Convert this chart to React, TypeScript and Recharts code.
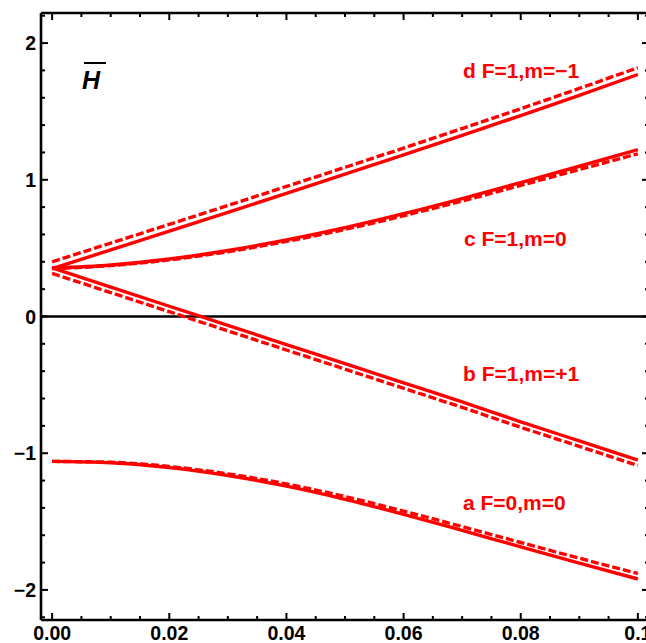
import { Customized, Line, LineChart, ReferenceLine, XAxis, YAxis } from "recharts";

const xs = [0, 0.01, 0.02, 0.03, 0.04, 0.05, 0.06, 0.07, 0.08, 0.09, 0.1];

const aSolid = [-1.06, -1.07, -1.105, -1.163, -1.241, -1.337, -1.447, -1.565, -1.685, -1.804, -1.92];
const aDashed = [-1.06, -1.066, -1.097, -1.151, -1.225, -1.317, -1.423, -1.537, -1.653, -1.768, -1.88];
const bSolid = [0.355, 0.215, 0.075, -0.065, -0.205, -0.345, -0.485, -0.625, -0.77, -0.91, -1.05];
const bDashed = [0.315, 0.175, 0.035, -0.105, -0.245, -0.385, -0.525, -0.665, -0.81, -0.95, -1.09];
const cSolid = [0.355, 0.377, 0.421, 0.483, 0.56, 0.65, 0.752, 0.863, 0.98, 1.099, 1.22];
const cDashed = [0.35, 0.372, 0.414, 0.474, 0.549, 0.637, 0.737, 0.845, 0.959, 1.075, 1.19];
const dSolid = [0.35, 0.487, 0.624, 0.762, 0.901, 1.041, 1.182, 1.325, 1.47, 1.618, 1.77];
const dDashed = [0.4, 0.537, 0.674, 0.812, 0.951, 1.091, 1.232, 1.375, 1.52, 1.668, 1.82];

const xTicks = [
  0, 0.005, 0.01, 0.015, 0.02, 0.025, 0.03, 0.035, 0.04, 0.045, 0.05,
  0.055, 0.06, 0.065, 0.07, 0.075, 0.08, 0.085, 0.09, 0.095, 0.1,
];
const xLabels = ["0.00", "0.02", "0.04", "0.06", "0.08", "0.1"];
const yTicks = [
  -2.2, -2, -1.8, -1.6, -1.4, -1.2, -1, -0.8, -0.6, -0.4, -0.2, 0,
  0.2, 0.4, 0.6, 0.8, 1, 1.2, 1.4, 1.6, 1.8, 2, 2.2,
];
const yLabels = ["\u22122", "\u22121", "0", "1", "2"];

const curveLabels = [
  { text: "d F=1,m=\u22121", x: 463, y: 78 },
  { text: "c F=1,m=0", x: 464, y: 245.5 },
  { text: "b F=1,m=+1", x: 463, y: 380.5 },
  { text: "a F=0,m=0", x: 463, y: 509.5 },
];

const data = xs.map((x, i) => ({
  x,
  aS: aSolid[i],
  aD: aDashed[i],
  bS: bSolid[i],
  bD: bDashed[i],
  cS: cSolid[i],
  cD: cDashed[i],
  dS: dSolid[i],
  dD: dDashed[i],
}));

const FONT = "'Liberation Sans', Arial, sans-serif";
const RED = "#ff0000";

const isMajorX = (v: number) => Math.abs(v / 0.02 - Math.round(v / 0.02)) < 1e-6;
const isMajorY = (v: number) => Math.abs(v - Math.round(v)) < 1e-6;

const makeXTick = (side: "top" | "bottom") => (props: any) => {
  const { x, y, payload } = props;
  const v = payload.value;
  const major = isMajorX(v);
  const len = major ? 7 : 4;
  const dir = side === "bottom" ? -1 : 1;
  return (
    <g>
      <line x1={x} x2={x} y1={y} y2={y + dir * len} stroke="#000" strokeWidth={2} />
      {side === "bottom" && major && (
        <text x={x} y={y + 20} textAnchor="middle" fontFamily={FONT} fontWeight="bold" fontSize={19.5} fill="#000">
          {xLabels[Math.round(v / 0.02)]}
        </text>
      )}
    </g>
  );
};

const makeYTick = (side: "left" | "right") => (props: any) => {
  const { x, y, payload } = props;
  const v = payload.value;
  const major = isMajorY(v);
  const len = major ? 7 : 4;
  const dir = side === "left" ? 1 : -1;
  return (
    <g>
      <line x1={x} x2={x + dir * len} y1={y} y2={y} stroke="#000" strokeWidth={2} />
      {side === "left" && major && (
        <text x={x - 5} y={y + 7} textAnchor="end" fontFamily={FONT} fontWeight="bold" fontSize={19.5} fill="#000">
          {yLabels[Math.round(v) + 2]}
        </text>
      )}
    </g>
  );
};

const Annotations = () => (
  <g>
    <text x={82} y={89} fontFamily={FONT} fontWeight="bold" fontStyle="italic" fontSize={25} fill="#000">
      H
    </text>
    <line x1={84} x2={106} y1={63} y2={63} stroke="#000" strokeWidth={2} />
    {curveLabels.map((l) => (
      <text key={l.text} x={l.x} y={l.y} fontFamily={FONT} fontWeight="bold" fontSize={21} fill={RED}>
        {l.text}
      </text>
    ))}
  </g>
);

const axisLine = { stroke: "#000", strokeWidth: 2.6 };

export default function App() {
  return (
    <div style={{ position: "fixed", left: 0, top: 0, width: 646, height: 643, overflow: "hidden", background: "#fff" }}>
      <LineChart width={669} height={643} data={data} margin={{ top: 0, right: 0, bottom: 0, left: 0 }}>
        <XAxis
          dataKey="x"
          type="number"
          domain={[-0.0019, 0.1019]}
          allowDataOverflow
          ticks={xTicks}
          interval={0}
          height={23}
          tickSize={0}
          tickMargin={0}
          tickLine={false}
          axisLine={axisLine}
          tick={makeXTick("bottom")}
        />
        <XAxis
          xAxisId="top"
          orientation="top"
          dataKey="x"
          type="number"
          domain={[-0.0019, 0.1019]}
          allowDataOverflow
          ticks={xTicks}
          interval={0}
          height={13}
          tickSize={0}
          tickMargin={0}
          tickLine={false}
          axisLine={axisLine}
          tick={makeXTick("top")}
        />
        <YAxis
          type="number"
          domain={[-2.22, 2.22]}
          allowDataOverflow
          ticks={yTicks}
          interval={0}
          width={41}
          tickSize={0}
          tickMargin={0}
          tickLine={false}
          axisLine={axisLine}
          tick={makeYTick("left")}
        />
        <YAxis
          yAxisId="right"
          orientation="right"
          type="number"
          domain={[-2.22, 2.22]}
          allowDataOverflow
          ticks={yTicks}
          interval={0}
          width={20}
          tickSize={0}
          tickMargin={0}
          tickLine={false}
          axisLine={axisLine}
          tick={makeYTick("right")}
        />
        <ReferenceLine y={0} stroke="#000" strokeWidth={2.6} />
        <Line dataKey="aS" type="monotone" stroke={RED} strokeWidth={3.4} dot={false} isAnimationActive={false} />
        <Line dataKey="aD" type="monotone" stroke={RED} strokeWidth={3.4} strokeDasharray="8 3" dot={false} isAnimationActive={false} />
        <Line dataKey="bS" type="monotone" stroke={RED} strokeWidth={3.4} dot={false} isAnimationActive={false} />
        <Line dataKey="bD" type="monotone" stroke={RED} strokeWidth={3.4} strokeDasharray="8 3" dot={false} isAnimationActive={false} />
        <Line dataKey="cS" type="monotone" stroke={RED} strokeWidth={3.4} dot={false} isAnimationActive={false} />
        <Line dataKey="cD" type="monotone" stroke={RED} strokeWidth={3.4} strokeDasharray="8 3" dot={false} isAnimationActive={false} />
        <Line dataKey="dS" type="monotone" stroke={RED} strokeWidth={3.4} dot={false} isAnimationActive={false} />
        <Line dataKey="dD" type="monotone" stroke={RED} strokeWidth={3.4} strokeDasharray="8 3" dot={false} isAnimationActive={false} />
        <Customized component={Annotations} />
      </LineChart>
    </div>
  );
}
